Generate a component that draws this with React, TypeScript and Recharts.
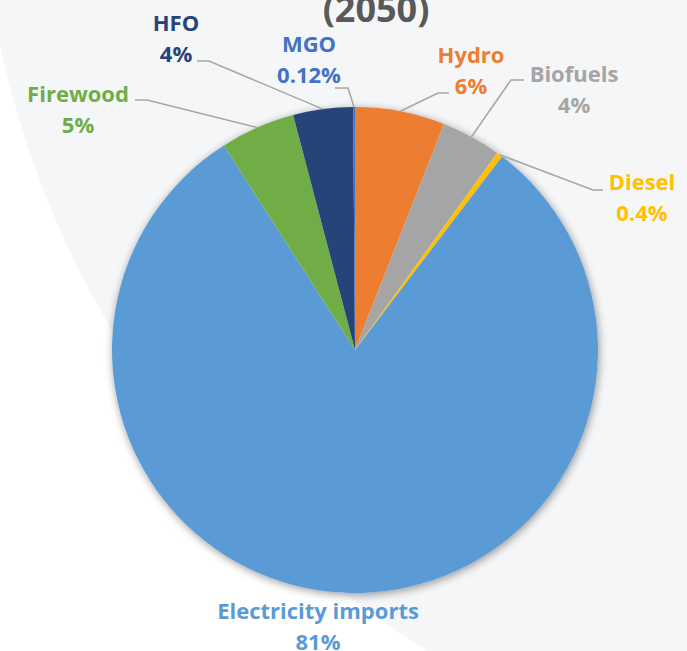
import React from "react";
import { PieChart, Pie, Cell } from "recharts";

const categories = ["Hydro", "Biofuels", "Diesel", "Electricity imports", "Firewood", "HFO", "MGO"];
const shares = [6, 4, 0.4, 81, 5, 4, 0.12];
const colors = ["#ED7D31", "#A5A5A5", "#FFC000", "#5B9BD5", "#70AD47", "#264478", "#4472C4"];
const titleText = "(2050)";

const data = categories.map((name, i) => ({ name, value: shares[i] }));

// label placement relative to pie centre: text centre, elbow point, line end
const LAYOUT: Record<string, { tx: number; ty: number; elbow?: [number, number]; end?: [number, number] }> = {
  Hydro: { tx: 116, ty: -296, elbow: [83, -257], end: [94, -257] },
  Biofuels: { tx: 219, ty: -277, elbow: [156, -270], end: [169, -270] },
  Diesel: { tx: 287, ty: -169, elbow: [238, -160], end: [248, -160] },
  "Electricity imports": { tx: -37, ty: 260 },
  Firewood: { tx: -277, ty: -257, elbow: [-208, -250], end: [-220, -250] },
  HFO: { tx: -179, ty: -328, elbow: [-146, -289], end: [-158, -289] },
  MGO: { tx: -46, ty: -307, elbow: [-7, -262], end: [-20, -262] },
};

const RAD = Math.PI / 180;
const W = 687;
const H = 651;
const CX = 355;
const CY = 350;
const R = 243;
const FONT = { fontFamily: "'Open Sans', sans-serif", fontWeight: 700, fontSize: 22 };

const renderLabel = (props: any) => {
  const { cx, cy, midAngle, outerRadius, name, value, index } = props;
  const lay = LAYOUT[name];
  if (!lay) return null;
  const color = colors[index];
  const ex = cx + outerRadius * Math.cos(-midAngle * RAD);
  const ey = cy + outerRadius * Math.sin(-midAngle * RAD);
  const tx = cx + lay.tx;
  const ty = cy + lay.ty;
  return (
    <g>
      {lay.elbow && lay.end && (
        <polyline
          points={`${ex},${ey} ${cx + lay.elbow[0]},${cy + lay.elbow[1]} ${cx + lay.end[0]},${cy + lay.end[1]}`}
          fill="none"
          stroke="#A6A6A6"
          strokeWidth={1.5}
        />
      )}
      <text x={tx} y={ty} fill={color} textAnchor="middle" dominantBaseline="central" style={FONT}>
        {name}
      </text>
      <text x={tx} y={ty + 31} fill={color} textAnchor="middle" dominantBaseline="central" style={FONT}>
        {`${value}%`}
      </text>
    </g>
  );
};

export default function App() {
  return (
    <div style={{ position: "absolute", left: 0, top: 0, width: W, height: H, overflow: "hidden", background: "#ffffff" }}>
      <div
        style={{
          position: "absolute",
          left: 923 - 944,
          top: -153 - 944,
          width: 944 * 2,
          height: 944 * 2,
          borderRadius: "50%",
          background: "#F5F6F8",
        }}
      />
      <div
        style={{
          position: "absolute",
          left: CX - R,
          top: CY - R,
          width: R * 2,
          height: R * 2,
          borderRadius: "50%",
          boxShadow: "1px 2px 8px rgba(0,0,0,0.4)",
        }}
      />
      <div style={{ position: "absolute", left: 0, top: 0 }}>
        <PieChart width={W} height={H} margin={{ top: 0, right: 0, bottom: 0, left: 0 }}>
          <text x={376} y={22} textAnchor="middle" fill="#595959"
            style={{ fontFamily: "'Open Sans', sans-serif", fontWeight: 700, fontSize: 36 }}>
            {titleText}
          </text>
          <Pie
            data={data}
            dataKey="value"
            nameKey="name"
            cx={CX}
            cy={CY}
            outerRadius={R}
            startAngle={90}
            endAngle={-270}
            stroke="none"
            label={renderLabel}
            labelLine={false}
            isAnimationActive={false}
          >
            {data.map((d, i) => (
              <Cell key={d.name} fill={colors[i]} />
            ))}
          </Pie>
        </PieChart>
      </div>
    </div>
  );
}
